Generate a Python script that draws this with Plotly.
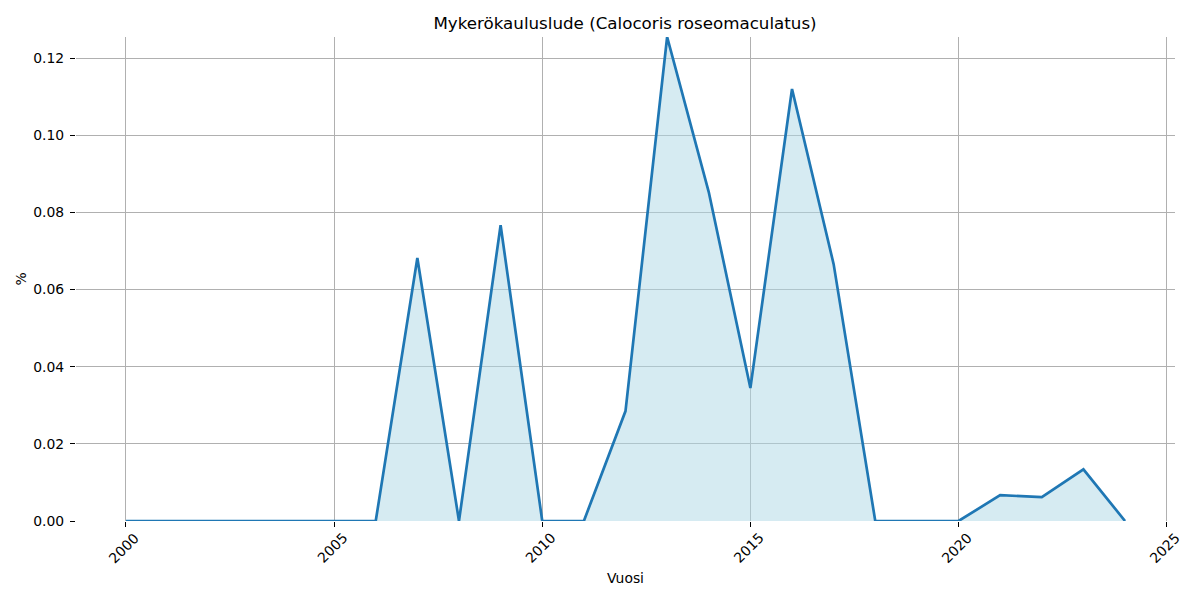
import plotly.graph_objects as go

years = list(range(2000, 2025))
values = [0, 0, 0, 0, 0, 0, 0, 0.0682, 0, 0.0767, 0, 0, 0.0285, 0.1255, 0.0853,
          0.0345, 0.1120, 0.0666, 0, 0, 0, 0.0067, 0.0062, 0.0134, 0]
title = "Mykerökauluslude (Calocoris roseomaculatus)"
x_ticks = [2000, 2005, 2010, 2015, 2020, 2025]
y_ticks = [0, 0.02, 0.04, 0.06, 0.08, 0.10, 0.12]

fig = go.Figure()
fig.add_trace(go.Scatter(
    x=years, y=values, mode="lines",
    line=dict(color="#1f77b4", width=2.7),
    fill="tozeroy", fillcolor="rgba(173,216,230,0.5)",
    showlegend=False, hoverinfo="x+y",
))

font = "DejaVu Sans, Liberation Sans, sans-serif"
fig.update_layout(
    width=1200, height=600,
    margin=dict(l=68, r=33, t=29, b=87),
    paper_bgcolor="white", plot_bgcolor="white",
    font=dict(family=font, size=13.9, color="black"),
    title=dict(text=title, x=617 / 1200, xanchor="center", y=1 - 15 / 600, yanchor="middle",
               font=dict(size=16.7, color="black")),
    xaxis=dict(
        range=[1998.8, 2025.2], tickmode="array", tickvals=x_ticks,
        showticklabels=False,
        showgrid=True, gridcolor="#b0b0b0", gridwidth=1,
        zeroline=False, showline=False, automargin=False,
        ticks="outside", ticklen=5, tickcolor="black", tickwidth=1,
        title=dict(text="Vuosi", font=dict(size=13.9), standoff=47),
    ),
    yaxis=dict(
        range=[0, 0.1255], tickmode="array", tickvals=y_ticks,
        ticktext=[f"{v:.2f}" for v in y_ticks],
        showgrid=True, gridcolor="#b0b0b0", gridwidth=1,
        zeroline=False, showline=False, automargin=False,
        ticks="outside", ticklen=5, tickcolor="black", tickwidth=1,
        ticklabelstandoff=3,
        title=dict(text="%", font=dict(size=13.9), standoff=3),
    ),
)

for t in x_ticks:
    fig.add_annotation(
        x=t, y=0, xref="x", yref="paper", text=str(t), showarrow=False,
        textangle=-45, xanchor="center", yanchor="middle",
        xshift=-2, yshift=-27, font=dict(size=13.9, color="black"),
    )

fig.write_html("out.html")
